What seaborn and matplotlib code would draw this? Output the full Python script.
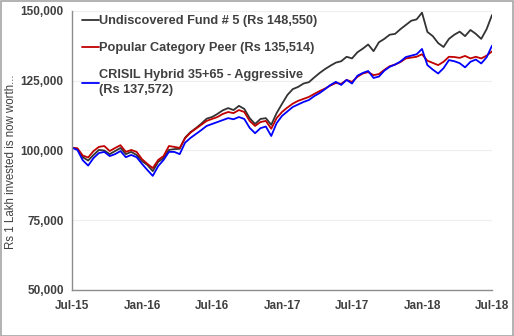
import numpy as np
import pandas as pd
import matplotlib
matplotlib.use("Agg")
import matplotlib.pyplot as plt
import matplotlib.dates as mdates
from matplotlib.patches import Rectangle
from matplotlib.ticker import FuncFormatter
import seaborn as sns

# Value of Rs 1 lakh (in Rs thousand), sampled roughly fortnightly, Jul-2015 to Jul-2018
fund_5 = [101.0, 100.6, 97.6, 96.4, 98.4, 100.2, 100.0, 98.7, 99.8, 100.9,
          98.7, 99.5, 98.4, 96.2, 94.8, 92.6, 95.9, 97.3, 100.2, 100.5,
          100.6, 104.6, 106.6, 108.0, 109.6, 111.4, 112.0, 113.1, 114.4, 115.2,
          114.5, 116.0, 114.9, 111.6, 109.5, 111.3, 111.6, 109.2, 113.4, 116.7,
          119.9, 122.0, 122.8, 124.0, 124.5, 126.2, 127.8, 129.2, 130.4, 131.5,
          132.0, 133.6, 133.0, 135.2, 136.5, 138.0, 135.6, 138.8, 140.0, 141.5,
          141.8, 143.5, 145.0, 146.5, 147.0, 149.4, 142.5, 141.0, 138.5, 137.1,
          140.0, 141.5, 142.6, 141.0, 143.2, 141.8, 140.0, 143.5, 148.55]

peer = [101.0, 100.8, 98.2, 97.5, 99.8, 101.3, 101.6, 99.8, 100.9, 101.9,
        99.5, 100.2, 99.5, 96.9, 95.2, 93.7, 96.6, 98.0, 101.6, 101.3,
        100.9, 104.4, 106.4, 107.8, 109.2, 110.6, 111.3, 112.0, 113.1, 113.8,
        113.4, 114.5, 113.8, 110.6, 108.8, 110.2, 110.6, 107.8, 111.6, 113.8,
        115.4, 116.8, 117.8, 118.5, 119.2, 120.3, 121.3, 122.2, 123.3, 124.2,
        123.9, 125.3, 124.6, 126.4, 127.6, 128.1, 127.0, 127.4, 128.9, 130.2,
        130.8, 131.7, 133.0, 133.3, 133.6, 134.5, 132.2, 131.4, 130.6, 131.8,
        133.6, 133.5, 133.2, 133.9, 133.0, 133.6, 133.0, 134.0, 135.514]

crisil = [101.0, 100.2, 96.5, 94.6, 97.3, 99.1, 99.5, 98.0, 98.7, 99.8,
          97.6, 98.4, 97.6, 95.2, 93.0, 90.9, 94.4, 96.6, 99.5, 99.5,
          98.7, 102.8, 104.5, 105.9, 107.3, 108.8, 109.5, 110.2, 110.9, 111.6,
          111.2, 112.0, 111.3, 108.1, 106.2, 108.0, 108.6, 105.2, 109.8, 112.4,
          114.0, 115.6, 116.5, 117.4, 118.1, 119.5, 120.6, 122.0, 123.5, 124.6,
          123.5, 125.3, 124.0, 126.8, 127.8, 128.5, 126.0, 126.5, 128.6, 130.0,
          130.8, 131.9, 133.5, 134.0, 134.5, 136.4, 130.6, 129.0, 127.6, 129.5,
          132.4, 132.0, 131.3, 129.8, 131.8, 132.6, 131.2, 133.4, 137.572]

series_names = ["Undiscovered Fund # 5 (Rs 148,550)",
                "Popular Category Peer (Rs 135,514)",
                "CRISIL Hybrid 35+65 - Aggressive\n(Rs 137,572)"]
series_colors = ["#333333", "#c00000", "#0000ff"]
y_ticks = [50000, 75000, 100000, 125000, 150000]
x_ticks = ["2015-07-01", "2016-01-01", "2016-07-01", "2017-01-01",
           "2017-07-01", "2018-01-01", "2018-07-01"]

dates = pd.date_range("2015-07-01", "2018-07-01", periods=len(fund_5))
frames = []
for name, vals in zip(series_names, [fund_5, peer, crisil]):
    frames.append(pd.DataFrame({"date": dates,
                                "value": np.array(vals) * 1000,
                                "series": name}))
df = pd.concat(frames, ignore_index=True)

sns.set_theme(style="white")
plt.rcParams["font.family"] = ["Liberation Sans", "DejaVu Sans"]

fig = plt.figure(figsize=(5.14, 3.36), dpi=100)
ax = fig.add_axes([72 / 514, 46 / 336, 420 / 514, 279 / 336])

sns.lineplot(data=df, x="date", y="value", hue="series",
             palette=dict(zip(series_names, series_colors)),
             linewidth=1.3, ax=ax, legend=False)

text_col = "#404040"
ax.set_ylim(50000, 150000)
ax.set_xlim(pd.Timestamp(x_ticks[0]), pd.Timestamp(x_ticks[-1]))
ax.set_yticks(y_ticks)
ax.yaxis.set_major_formatter(FuncFormatter(lambda v, p: f"{int(v):,}"))
ax.set_xticks([pd.Timestamp(t) for t in x_ticks])
ax.xaxis.set_major_formatter(mdates.DateFormatter("%b-%y"))
ax.grid(axis="y", color="#eeeeee", linewidth=0.8)
ax.set_axisbelow(True)

for side in ["top", "right"]:
    ax.spines[side].set_visible(False)
for side in ["left", "bottom"]:
    ax.spines[side].set_color("#8c8c8c")
    ax.spines[side].set_linewidth(1.0)

ax.tick_params(axis="both", which="major", length=3, width=0.8,
               color="#8c8c8c", labelsize=8.5, labelcolor=text_col)
ax.tick_params(axis="y", pad=3)
ax.tick_params(axis="x", pad=4)
for lbl in ax.get_xticklabels() + ax.get_yticklabels():
    lbl.set_fontweight("bold")

ax.set_xlabel("")
ax.set_ylabel("Rs 1 Lakh invested is now worth...", fontsize=8.3,
              color=text_col)
ax.yaxis.set_label_coords(-0.131, 0.46)

handles = [plt.Line2D([], [], color=c, linewidth=1.3) for c in series_colors]
leg = ax.legend(handles, series_names, loc="upper left",
                bbox_to_anchor=(-0.004, 1.026), frameon=False,
                handlelength=1.35, handletextpad=0.0, labelspacing=1.18,
                prop={"weight": "bold", "size": 9.2})
for t in leg.get_texts():
    t.set_color(text_col)
    t.set_linespacing(1.3)

fig.patches.append(Rectangle((0.001, 0.001), 0.997, 0.996,
                             transform=fig.transFigure, fill=False,
                             edgecolor="#a6a6a6", linewidth=1.2))

fig.savefig("out.png", dpi=100)
